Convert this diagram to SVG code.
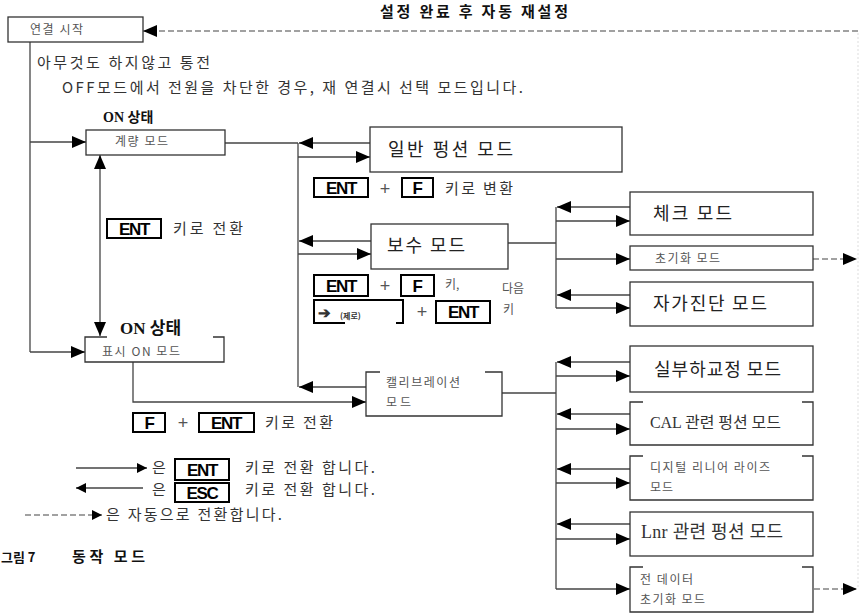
<svg xmlns="http://www.w3.org/2000/svg" width="860" height="613" viewBox="0 0 860 613">
<style>
text{font-family:"Noto Sans CJK KR","Liberation Sans",sans-serif;fill:#333}
.t{font-size:15px}
.big{font-size:18px;fill:#222}
.sm{font-size:12px;fill:#555}
.b{font-weight:bold;fill:#111}
.serif{font-family:"Liberation Serif","Noto Sans CJK KR",serif}
.box{fill:#fff;stroke:#333;stroke-width:1.3}
.ln{fill:none;stroke:#444;stroke-width:1.3}
.dash{fill:none;stroke:#444;stroke-width:1.2;stroke-dasharray:6 3}
.faint{fill:none;stroke:#ddd;stroke-width:1;stroke-dasharray:2 2}
.key{fill:#fff;stroke:#000;stroke-width:2}
.kt{font-family:"Liberation Sans",sans-serif;font-weight:bold;font-size:17px;fill:#000;text-anchor:middle;letter-spacing:-1.3px}
.plus{font-family:"Liberation Sans",sans-serif;font-size:18px;fill:#555;text-anchor:middle}
</style>
<defs>
<marker id="ah" viewBox="0 0 14 12" refX="14" refY="6" markerWidth="14" markerHeight="12" markerUnits="userSpaceOnUse" orient="auto-start-reverse"><path d="M0,0 L14,6 L0,12 z" fill="#000"/></marker>
<marker id="as" viewBox="0 0 10 10" refX="10" refY="5" markerWidth="10" markerHeight="10" markerUnits="userSpaceOnUse" orient="auto"><path d="M0,0 L10,5 L0,10 z" fill="#000"/></marker>
</defs>

<text class="b" x="380" y="17" font-size="15" textLength="188">설정 완료 후 자동 재설정</text>

<g id="connectors">
<line class="faint" x1="858" y1="33" x2="858" y2="589"/>
<line class="dash" x1="858" y1="31" x2="143" y2="31" marker-end="url(#ah)"/>
<polyline class="ln" points="30,42 30,352"/>
<line class="ln" x1="30" y1="142" x2="86" y2="142" marker-end="url(#ah)"/>
<line class="ln" x1="30" y1="352" x2="85" y2="352" marker-end="url(#ah)"/>
<line class="ln" x1="100" y1="155" x2="100" y2="336" marker-start="url(#ah)" marker-end="url(#ah)"/>
<line class="ln" x1="225" y1="143" x2="298" y2="143"/>
<line class="ln" x1="370" y1="143" x2="299" y2="143" marker-end="url(#ah)"/>
<line class="ln" x1="298" y1="157" x2="370" y2="157" marker-end="url(#ah)"/>
<line class="ln" x1="298" y1="143" x2="298" y2="387"/>
<line class="ln" x1="371" y1="241" x2="299" y2="241" marker-end="url(#ah)"/>
<line class="ln" x1="298" y1="254" x2="371" y2="254" marker-end="url(#ah)"/>
<line class="ln" x1="508" y1="243" x2="556" y2="243"/>
<line class="ln" x1="556" y1="207" x2="556" y2="308"/>
<line class="ln" x1="630" y1="207" x2="557" y2="207" marker-end="url(#ah)"/>
<line class="ln" x1="556" y1="221" x2="630" y2="221" marker-end="url(#ah)"/>
<line class="ln" x1="556" y1="259" x2="630" y2="259" marker-end="url(#ah)"/>
<line class="ln" x1="630" y1="295" x2="557" y2="295" marker-end="url(#ah)"/>
<line class="ln" x1="556" y1="308" x2="630" y2="308" marker-end="url(#ah)"/>
<line class="dash" x1="813" y1="259" x2="857" y2="259" marker-end="url(#ah)"/>
<polyline class="ln" points="133,362 133,402 366,402" marker-end="url(#ah)"/>
<line class="ln" x1="366" y1="387" x2="299" y2="387" marker-end="url(#ah)"/>
<line class="ln" x1="502" y1="393" x2="556" y2="393"/>
<line class="ln" x1="556" y1="362" x2="556" y2="589"/>
<line class="ln" x1="630" y1="362" x2="557" y2="362" marker-end="url(#ah)"/>
<line class="ln" x1="556" y1="376" x2="630" y2="376" marker-end="url(#ah)"/>
<line class="ln" x1="630" y1="414" x2="557" y2="414" marker-end="url(#ah)"/>
<line class="ln" x1="556" y1="429" x2="630" y2="429" marker-end="url(#ah)"/>
<line class="ln" x1="630" y1="469" x2="557" y2="469" marker-end="url(#ah)"/>
<line class="ln" x1="556" y1="483" x2="630" y2="483" marker-end="url(#ah)"/>
<line class="ln" x1="630" y1="524" x2="557" y2="524" marker-end="url(#ah)"/>
<line class="ln" x1="556" y1="539" x2="630" y2="539" marker-end="url(#ah)"/>
<line class="ln" x1="556" y1="589" x2="630" y2="589" marker-end="url(#ah)"/>
<line class="dash" x1="814" y1="589" x2="857" y2="589" marker-end="url(#ah)"/>
</g>

<g id="n-start">
<rect class="box" x="8" y="17" width="135" height="25"/>
<text class="sm" x="30" y="34" textLength="53">연결 시작</text>
</g>

<text class="t" x="37" y="68" textLength="173">아무것도 하지않고 통전</text>
<text class="t" x="62" y="93" textLength="461">OFF모드에서 전원을 차단한 경우, 재 연결시 선택 모드입니다.</text>

<g id="n-measure">
<text class="b serif" x="103" y="122" font-size="14">ON 상태</text>
<rect class="box" x="86" y="130" width="139" height="25"/>
<text class="sm" x="115" y="146" textLength="53">계량 모드</text>
</g>

<g id="n-display">
<text class="b serif" x="120" y="334" font-size="17">ON 상태</text>
<path class="box" d="M107,337 H85 V362 H224 V337 H213"/>
<text class="sm" x="102" y="356" textLength="78">표시 ON 모드</text>
</g>

<g id="lbl-ent">
<rect class="key" x="107" y="219" width="54" height="19"/>
<text class="kt" x="134" y="235">ENT</text>
<text class="t" x="173" y="234" textLength="70">키로 전환</text>
</g>

<g id="n-general">
<rect class="box" x="370" y="127" width="252" height="45"/>
<text class="big" x="388" y="156" textLength="125">일반 펑션 모드</text>
</g>

<g id="lbl-entf1">
<rect class="key" x="314" y="178" width="54" height="19"/>
<text class="kt" x="341" y="194">ENT</text>
<text class="plus" x="385" y="195">+</text>
<rect class="key" x="402" y="178" width="31" height="19"/>
<text class="kt" x="417" y="194">F</text>
<text class="t" x="445" y="194" textLength="68">키로 변환</text>
</g>

<g id="n-maint">
<rect class="box" x="371" y="224" width="137" height="45"/>
<text class="big" x="387" y="252" textLength="78">보수 모드</text>
</g>

<g id="lbl-maint">
<rect class="key" x="314" y="275" width="54" height="21"/>
<text class="kt" x="341" y="292">ENT</text>
<text class="plus" x="385" y="292">+</text>
<rect class="key" x="401" y="275" width="33" height="21"/>
<text class="kt" x="417" y="292">F</text>
<text class="sm" x="445" y="289">키,</text>
<text class="sm" x="502" y="293">다음</text>
<path class="key" fill="none" d="M345,323 H314 V300 H403 V323 H396"/>
<text x="318" y="318" font-family="'DejaVu Sans',sans-serif" font-size="15" font-weight="bold" fill="#000">➔</text>
<text x="340" y="319" font-size="8" font-weight="bold" fill="#222">(제로)</text>
<text class="plus" x="422" y="318">+</text>
<rect class="key" x="436" y="301" width="54" height="22"/>
<text class="kt" x="463" y="318">ENT</text>
<text class="sm" x="503" y="314">키</text>
</g>

<g id="n-check">
<rect class="box" x="630" y="192" width="183" height="43"/>
<text class="big" x="653" y="220" textLength="79">체크 모드</text>
</g>
<g id="n-init">
<rect class="box" x="630" y="246" width="183" height="24"/>
<text class="sm" x="655" y="263" textLength="65">초기화 모드</text>
</g>
<g id="n-selfdiag">
<rect class="box" x="630" y="282" width="183" height="44"/>
<text class="big" x="653" y="310" textLength="114">자가진단 모드</text>
</g>

<g id="n-cal">
<path class="box" d="M380,372 H366 V416 H502 V372 H485"/>
<text class="sm" x="386" y="387" textLength="74">캘리브레이션</text>
<text class="sm" x="386" y="407" textLength="25">모드</text>
</g>

<g id="lbl-fent">
<rect class="key" x="133" y="413" width="32" height="19"/>
<text class="kt" x="149" y="429">F</text>
<text class="plus" x="183" y="429">+</text>
<rect class="key" x="199" y="413" width="55" height="19"/>
<text class="kt" x="226" y="429">ENT</text>
<text class="t" x="265" y="428" textLength="68">키로 전환</text>
</g>

<g id="n-load">
<rect class="box" x="630" y="346" width="183" height="46"/>
<text class="big" x="654" y="376" textLength="127">실부하교정 모드</text>
</g>
<g id="n-calfunc">
<path class="box" d="M643,402 H630 V445 H813 V402 H802"/>
<text class="serif" x="650" y="428" font-size="16" fill="#222" textLength="131">CAL 관련 펑션 모드</text>
</g>
<g id="n-digital">
<path class="box" d="M643,456 H630 V500 H813 V456 H802"/>
<text class="sm" x="650" y="472" textLength="120">디지털 리니어 라이즈</text>
<text class="sm" x="650" y="492" textLength="23">모드</text>
</g>
<g id="n-lnr">
<rect class="box" x="630" y="512" width="183" height="44"/>
<text class="serif" x="641" y="538" font-size="18" fill="#222" textLength="142">Lnr 관련 펑션 모드</text>
</g>
<g id="n-alldata">
<path class="box" d="M643,567 H630 V612 H813 V567 H802"/>
<text class="sm" x="640" y="584" textLength="53">전 데이터</text>
<text class="sm" x="640" y="604" textLength="65">초기화 모드</text>
</g>

<g id="legend">
<line class="ln" x1="76" y1="468" x2="147" y2="468" marker-end="url(#as)"/>
<text class="t" x="152" y="473">은</text>
<rect class="key" x="175" y="459" width="54" height="21"/>
<text class="kt" x="202" y="476">ENT</text>
<text class="t" x="245" y="473" textLength="130">키로 전환 합니다.</text>
<line class="ln" x1="143" y1="488" x2="76" y2="488" marker-end="url(#as)"/>
<text class="t" x="152" y="495">은</text>
<rect class="key" x="175" y="483" width="54" height="19"/>
<text class="kt" x="202" y="499">ESC</text>
<text class="t" x="245" y="495" textLength="130">키로 전환 합니다.</text>
<line class="dash" x1="25" y1="515" x2="102" y2="515" stroke-dasharray="4 2" marker-end="url(#as)"/>
<text class="t" x="106" y="520" textLength="176">은 자동으로 전환합니다.</text>
</g>

<text class="b" x="1" y="562" font-size="13">그림 7</text>
<text class="b" x="72" y="562" font-size="15" textLength="73">동작 모드</text>
</svg>
